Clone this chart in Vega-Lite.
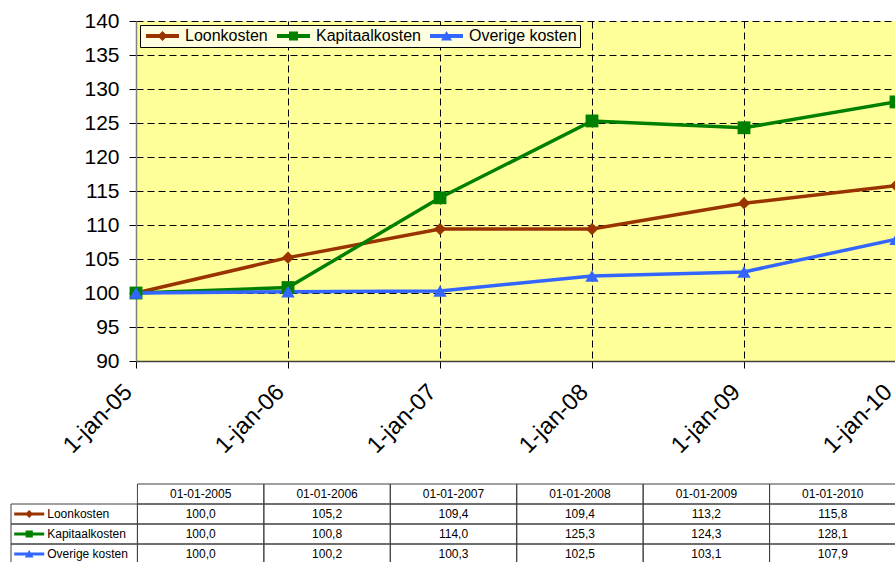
{
  "$schema": "https://vega.github.io/schema/vega-lite/v6.json",
  "padding": {"left": 10, "top": 10, "right": 0, "bottom": 0},
  "background": "white",
  "bounds": "flush",
  "spacing": 123,
  "config": {
    "font": "Liberation Sans",
    "locale": {
      "number": {"decimal": ",", "thousands": ".", "grouping": [3], "currency": ["€ ", ""]},
      "time": {
        "dateTime": "%a %e %B %Y %X",
        "date": "%d-%m-%Y",
        "time": "%H:%M:%S",
        "periods": ["AM", "PM"],
        "days": ["zondag", "maandag", "dinsdag", "woensdag", "donderdag", "vrijdag", "zaterdag"],
        "shortDays": ["zo", "ma", "di", "wo", "do", "vr", "za"],
        "months": ["januari", "februari", "maart", "april", "mei", "juni", "juli", "augustus", "september", "oktober", "november", "december"],
        "shortMonths": ["jan", "feb", "mrt", "apr", "mei", "jun", "jul", "aug", "sep", "okt", "nov", "dec"]
      }
    },
    "legend": {
      "orient": "top-left",
      "offset": 4,
      "direction": "horizontal",
      "symbolSize": 100,
      "symbolStrokeWidth": 0,
      "symbolOpacity": 1,
      "labelFont": "Liberation Sans",
      "labelFontSize": 16,
      "labelColor": "#000000",
      "labelOffset": 26,
      "columnPadding": 6,
      "padding": 3,
      "fillColor": "#ffffe0",
      "strokeColor": "#000000"
    }
  },
  "datasets": {
    "kosten": [
      {"peildatum": "01-01-2005", "reeks": "Loonkosten", "waarde": 100.0},
      {"peildatum": "01-01-2006", "reeks": "Loonkosten", "waarde": 105.2},
      {"peildatum": "01-01-2007", "reeks": "Loonkosten", "waarde": 109.4},
      {"peildatum": "01-01-2008", "reeks": "Loonkosten", "waarde": 109.4},
      {"peildatum": "01-01-2009", "reeks": "Loonkosten", "waarde": 113.2},
      {"peildatum": "01-01-2010", "reeks": "Loonkosten", "waarde": 115.8},
      {"peildatum": "01-01-2005", "reeks": "Kapitaalkosten", "waarde": 100.0},
      {"peildatum": "01-01-2006", "reeks": "Kapitaalkosten", "waarde": 100.8},
      {"peildatum": "01-01-2007", "reeks": "Kapitaalkosten", "waarde": 114.0},
      {"peildatum": "01-01-2008", "reeks": "Kapitaalkosten", "waarde": 125.3},
      {"peildatum": "01-01-2009", "reeks": "Kapitaalkosten", "waarde": 124.3},
      {"peildatum": "01-01-2010", "reeks": "Kapitaalkosten", "waarde": 128.1},
      {"peildatum": "01-01-2005", "reeks": "Overige kosten", "waarde": 100.0},
      {"peildatum": "01-01-2006", "reeks": "Overige kosten", "waarde": 100.2},
      {"peildatum": "01-01-2007", "reeks": "Overige kosten", "waarde": 100.3},
      {"peildatum": "01-01-2008", "reeks": "Overige kosten", "waarde": 102.5},
      {"peildatum": "01-01-2009", "reeks": "Overige kosten", "waarde": 103.1},
      {"peildatum": "01-01-2010", "reeks": "Overige kosten", "waarde": 107.9}
    ]
  },
  "resolve": {
    "scale": {"x": "independent", "y": "independent", "color": "independent", "shape": "independent"},
    "legend": {"color": "independent", "shape": "independent"}
  },
  "vconcat": [
    {
      "width": 760,
      "height": 340,
      "data": {"name": "kosten"},
      "view": {"fill": "#ffff99", "stroke": null},
      "encoding": {
        "x": {
          "field": "peildatum", "type": "ordinal",
          "scale": {"type": "point", "padding": 0, "domain": ["01-01-2005", "01-01-2006", "01-01-2007", "01-01-2008", "01-01-2009", "01-01-2010"]},
          "axis": {
            "title": null,
            "labelExpr": "timeFormat(timeParse(datum.value, '%d-%m-%Y'), '%-d-%b-%y')",
            "labelAngle": -45, "labelAlign": "right", "labelBaseline": "middle",
            "labelFontSize": 23.5, "labelColor": "#000000", "labelPadding": 20, "labelOffset": -8,
            "labelOverlap": false, "labelBound": false,
            "tickSize": 7, "tickColor": "#000000", "tickWidth": 1,
            "domainColor": "#404040", "domainWidth": 1.5,
            "grid": true, "gridDash": [7, 4], "gridColor": "#000000", "gridWidth": 1, "gridOpacity": 1
          }
        },
        "y": {
          "field": "waarde", "type": "quantitative",
          "scale": {"domain": [90, 140], "nice": false, "zero": false},
          "axis": {
            "title": null,
            "values": [90, 95, 100, 105, 110, 115, 120, 125, 130, 135, 140],
            "labelFontSize": 21, "labelColor": "#000000", "labelPadding": 10,
            "tickSize": 7, "tickColor": "#000000", "tickWidth": 1,
            "domainColor": "#808080", "domainWidth": 1.5,
            "grid": true, "gridDash": [7, 4], "gridColor": "#000000", "gridWidth": 1, "gridOpacity": 1
          }
        }
      },
      "layer": [
        {
          "transform": [{"filter": "datum.reeks === 'Loonkosten'"}],
          "mark": {"type": "line", "strokeWidth": 3.5, "color": "#993300"},
          "encoding": {}
        },
        {
          "transform": [{"filter": "datum.reeks === 'Kapitaalkosten'"}],
          "mark": {"type": "line", "strokeWidth": 3.5, "color": "#008000"},
          "encoding": {}
        },
        {
          "transform": [{"filter": "datum.reeks === 'Overige kosten'"}],
          "mark": {"type": "line", "strokeWidth": 3.5, "color": "#3366ff"},
          "encoding": {}
        },
        {
          "transform": [{"filter": "datum.reeks === 'Loonkosten'"}],
          "mark": {"type": "point", "shape": "diamond", "filled": true, "size": 150, "opacity": 1, "color": "#993300"},
          "encoding": {}
        },
        {
          "transform": [{"filter": "datum.reeks === 'Kapitaalkosten'"}],
          "mark": {"type": "point", "shape": "square", "filled": true, "size": 165, "opacity": 1, "color": "#008000"},
          "encoding": {}
        },
        {
          "transform": [{"filter": "datum.reeks === 'Overige kosten'"}],
          "mark": {"type": "point", "shape": "triangle-up", "filled": true, "size": 180, "opacity": 1, "color": "#3366ff"},
          "encoding": {}
        },
        {
          "mark": {"type": "point", "filled": true, "opacity": 0},
          "encoding": {
            "color": {
              "field": "reeks", "type": "nominal",
              "scale": {"domain": ["Loonkosten", "Kapitaalkosten", "Overige kosten"], "range": ["#993300", "#008000", "#3366ff"]},
              "legend": {"title": null, "symbolOpacity": 1, "encode": {"symbols": {"update": {"opacity": {"value": 1}, "fillOpacity": {"value": 1}}}}}
            },
            "shape": {
              "field": "reeks", "type": "nominal",
              "scale": {
                "domain": ["Loonkosten", "Kapitaalkosten", "Overige kosten"],
                "range": [
                  "M-1,-0.4L5.6,-0.4L5.6,0.4L-1,0.4Z M2.3,-1L3.3,0L2.3,1L1.3,0Z",
                  "M-1,-0.4L5.6,-0.4L5.6,0.4L-1,0.4Z M1.4,-0.9L3.2,-0.9L3.2,0.9L1.4,0.9Z",
                  "M-1,-0.4L5.6,-0.4L5.6,0.4L-1,0.4Z M2.3,-1L3.4,0.9L1.2,0.9Z"
                ]
              },
              "legend": {"title": null, "symbolOpacity": 1, "encode": {"symbols": {"update": {"opacity": {"value": 1}, "fillOpacity": {"value": 1}}}}}
            }
          }
        }
      ]
    },
    {
      "width": 760,
      "height": 80,
      "data": {"name": "kosten"},
      "view": {"stroke": null},
      "layer": [
        {
          "transform": [{"filter": "datum.reeks === 'Loonkosten'"}],
          "mark": {"type": "rect", "fillOpacity": 0, "stroke": "#404040", "strokeWidth": 1},
          "encoding": {
            "x": {"field": "peildatum", "type": "nominal", "scale": {"type": "band", "domain": ["label", "01-01-2005", "01-01-2006", "01-01-2007", "01-01-2008", "01-01-2009", "01-01-2010"], "range": [-125, 760], "paddingInner": 0, "paddingOuter": 0}, "axis": null},
            "y": {"datum": "kop", "type": "nominal", "scale": {"type": "band", "domain": ["kop", "Loonkosten", "Kapitaalkosten", "Overige kosten"], "paddingInner": 0, "paddingOuter": 0}, "axis": null}
          }
        },
        {
          "transform": [{"filter": "datum.reeks === 'Loonkosten'"}],
          "mark": {"type": "text", "fontSize": 12, "color": "#000000", "align": "center", "baseline": "middle"},
          "encoding": {
            "x": {"field": "peildatum", "type": "nominal", "axis": null},
            "y": {"datum": "kop", "type": "nominal", "axis": null},
            "text": {"field": "peildatum", "type": "nominal"}
          }
        },
        {
          "mark": {"type": "rect", "fillOpacity": 0, "stroke": "#404040", "strokeWidth": 1},
          "encoding": {
            "x": {"field": "peildatum", "type": "nominal", "axis": null},
            "y": {"field": "reeks", "type": "nominal", "axis": null}
          }
        },
        {
          "mark": {"type": "text", "fontSize": 12, "color": "#000000", "align": "center", "baseline": "middle"},
          "encoding": {
            "x": {"field": "peildatum", "type": "nominal", "axis": null},
            "y": {"field": "reeks", "type": "nominal", "axis": null},
            "text": {"field": "waarde", "type": "quantitative", "format": ".1f"}
          }
        },
        {
          "transform": [{"filter": "datum.peildatum === '01-01-2005'"}],
          "mark": {"type": "rect", "fillOpacity": 0, "stroke": "#404040", "strokeWidth": 1},
          "encoding": {
            "x": {"datum": "label", "type": "nominal", "axis": null},
            "y": {"field": "reeks", "type": "nominal", "axis": null}
          }
        },
        {
          "transform": [{"filter": "datum.peildatum === '01-01-2005'"}],
          "mark": {"type": "point", "filled": true, "size": 64, "xOffset": -45, "opacity": 1, "strokeWidth": 0},
          "encoding": {
            "x": {"datum": "label", "type": "nominal", "axis": null},
            "y": {"field": "reeks", "type": "nominal", "axis": null},
            "color": {"field": "reeks", "type": "nominal", "scale": {"domain": ["Loonkosten", "Kapitaalkosten", "Overige kosten"], "range": ["#993300", "#008000", "#3366ff"]}, "legend": null},
            "shape": {
              "field": "reeks", "type": "nominal",
              "scale": {
                "domain": ["Loonkosten", "Kapitaalkosten", "Overige kosten"],
                "range": [
                  "M-3.75,-0.4L3.75,-0.4L3.75,0.4L-3.75,0.4Z M0,-1L1,0L0,1L-1,0Z",
                  "M-3.75,-0.4L3.75,-0.4L3.75,0.4L-3.75,0.4Z M-0.9,-0.9L0.9,-0.9L0.9,0.9L-0.9,0.9Z",
                  "M-3.75,-0.4L3.75,-0.4L3.75,0.4L-3.75,0.4Z M0,-1L1.1,0.9L-1.1,0.9Z"
                ]
              },
              "legend": null
            }
          }
        },
        {
          "transform": [{"filter": "datum.peildatum === '01-01-2005'"}],
          "mark": {"type": "text", "fontSize": 12, "color": "#000000", "align": "left", "baseline": "middle", "dx": -27},
          "encoding": {
            "x": {"datum": "label", "type": "nominal", "axis": null},
            "y": {"field": "reeks", "type": "nominal", "axis": null},
            "text": {"field": "reeks", "type": "nominal"}
          }
        }
      ]
    }
  ]
}
